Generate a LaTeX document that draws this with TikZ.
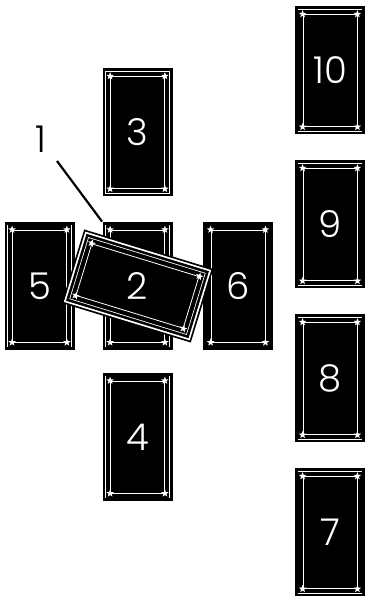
\documentclass[tikz,border=0pt]{standalone}
\usepackage{fontspec}
\setmainfont{Poppins}[UprightFont={* Light}]
\usetikzlibrary{shapes.geometric,calc}

\tikzset{
  card/.style={rectangle, inner sep=0pt, minimum width=54pt, minimum height=112pt,
    text=white, font=\fontsize{37}{37}\selectfont,
    preaction={draw=black, line width=16pt},
    preaction={draw=white, line width=10.8pt},
    preaction={draw=black, line width=9.2pt},
    fill=black, draw=white, line width=0.8pt},
  crosscard/.style={preaction={draw=black, line width=23pt},
    preaction={draw=white, line width=19.5pt}, card,
    minimum width=112pt, minimum height=54pt},
  cardnum/.style={text=white, inner sep=0pt, font=\fontsize{37}{37}\selectfont},
  starmark/.style={star, star points=5, star point ratio=2.4, fill=white,
    draw=none, inner sep=0pt, minimum size=8pt},
  lab/.style={font=\fontsize{37}{37}\selectfont, inner sep=0pt}
}

\begin{document}
\begin{tikzpicture}[x=1pt, y=1pt]
  \useasboundingbox (0,0) rectangle (370,603);
  % the cross
  \node[card] (c1) at (137.5,317) {};
  \node[card] (c3) at (137.5,470.5) {3};
  \node[card] (c4) at (137.5,166) {4};
  \node[card] (c5) at (39.5,317) {5};
  \node[card] (c6) at (238,317) {6};
  % the staff
  \foreach \n/\y in {7/70.5, 8/224.5, 9/378.5, 10/532.5}
    \node[card] (c\n) at (330,\y) {\n};
  \foreach \n in {1,3,4,5,6,7,8,9,10}
    \foreach \c in {north west,north east,south west,south east}
      \node[starmark] at (c\n.\c) {};
  % crossing card
  \node[crosscard, rotate=-17] (c2) at (c1) {};
  \foreach \c in {north west,north east,south west,south east}
    \node[starmark, rotate=-17] at (c2.\c) {};
  \node[cardnum] (n2) at (c2) {2};
  % pointer to the covered card
  \node[lab] (lab1) at (41,464) {1};
  \coordinate (tip1) at (57,442);
  \draw[line width=2.2pt] (tip1) -- ([shift={(-8,8)}]c1.north west);
\end{tikzpicture}
\end{document}
